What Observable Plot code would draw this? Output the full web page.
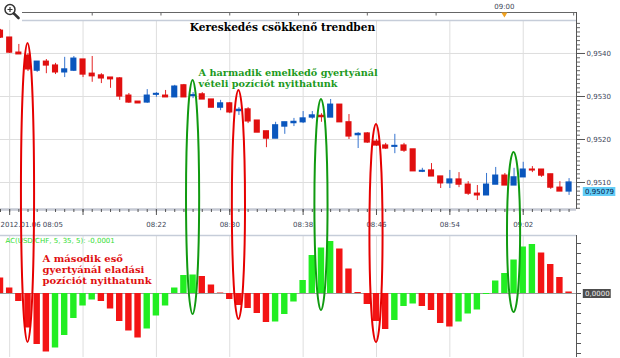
<!DOCTYPE html>
<html><head><meta charset="utf-8">
<script src="https://cdn.jsdelivr.net/npm/d3@7"></script>
<script src="https://cdn.jsdelivr.net/npm/@observablehq/plot@0.6"></script>
<style>
html,body{margin:0;padding:0;background:#fff;}
#wrap{position:relative;width:620px;height:358px;overflow:hidden;background:#fff;}
#wrap svg{position:absolute;left:0;}
</style></head><body><div id="wrap"></div>
<script>
// ---- data ----
const times = ["08:05","08:06","08:07","08:08","08:09","08:10","08:11","08:12","08:13","08:14","08:15","08:16","08:17","08:18","08:19","08:20","08:21","08:22","08:23","08:24","08:25","08:26","08:27","08:28","08:29","08:30","08:31","08:32","08:33","08:34","08:35","08:36","08:37","08:38","08:39","08:40","08:41","08:42","08:43","08:44","08:45","08:46","08:47","08:48","08:49","08:50","08:51","08:52","08:53","08:54","08:55","08:56","08:57","08:58","08:59","09:00","09:01","09:02","09:03","09:04","09:05","09:06","09:07"];
const open  = [0.95453,0.95437,0.95402,0.95395,0.95360,0.95381,0.95372,0.95356,0.95360,0.95386,0.95353,0.95349,0.95344,0.95342,0.95302,0.95288,0.95286,0.95304,0.95302,0.95298,0.95326,0.95301,0.95305,0.95293,0.95274,0.95284,0.95266,0.95270,0.95244,0.95219,0.95202,0.95230,0.95238,0.95240,0.95251,0.95255,0.95251,0.95281,0.95240,0.95210,0.95214,0.95195,0.95186,0.95183,0.95186,0.95177,0.95125,0.95128,0.95114,0.95098,0.95107,0.95095,0.95074,0.95070,0.95095,0.95116,0.95093,0.95112,0.95130,0.95130,0.95119,0.95088,0.95079];
const high  = [0.95456,0.95437,0.95421,0.95400,0.95381,0.95386,0.95377,0.95391,0.95393,0.95386,0.95393,0.95353,0.95344,0.95344,0.95307,0.95288,0.95316,0.95309,0.95314,0.95326,0.95328,0.95309,0.95309,0.95293,0.95291,0.95286,0.95274,0.95274,0.95244,0.95219,0.95240,0.95240,0.95249,0.95265,0.95265,0.95260,0.95293,0.95281,0.95258,0.95216,0.95216,0.95200,0.95191,0.95212,0.95191,0.95177,0.95133,0.95144,0.95114,0.95128,0.95123,0.95102,0.95093,0.95121,0.95135,0.95121,0.95133,0.95147,0.95137,0.95130,0.95119,0.95102,0.95109];
const low   = [0.95435,0.95400,0.95398,0.95358,0.95356,0.95353,0.95351,0.95344,0.95358,0.95344,0.95333,0.95330,0.95319,0.95291,0.95284,0.95284,0.95284,0.95298,0.95298,0.95298,0.95298,0.95295,0.95293,0.95274,0.95267,0.95260,0.95256,0.95237,0.95216,0.95181,0.95202,0.95212,0.95230,0.95237,0.95247,0.95240,0.95251,0.95240,0.95200,0.95179,0.95191,0.95184,0.95177,0.95167,0.95170,0.95126,0.95123,0.95114,0.95086,0.95086,0.95088,0.95070,0.95058,0.95070,0.95095,0.95093,0.95093,0.95112,0.95123,0.95112,0.95084,0.95079,0.95070];
const close = [0.95437,0.95402,0.95398,0.95363,0.95381,0.95372,0.95356,0.95363,0.95388,0.95351,0.95347,0.95342,0.95340,0.95300,0.95286,0.95284,0.95302,0.95306,0.95298,0.95323,0.95298,0.95303,0.95293,0.95274,0.95284,0.95263,0.95269,0.95242,0.95216,0.95202,0.95233,0.95240,0.95241,0.95249,0.95256,0.95252,0.95281,0.95240,0.95207,0.95213,0.95193,0.95186,0.95179,0.95185,0.95174,0.95126,0.95127,0.95114,0.95098,0.95107,0.95095,0.95074,0.95070,0.95095,0.95116,0.95093,0.95112,0.95130,0.95128,0.95116,0.95088,0.95079,0.95100];
const acValues = [0.000031,0.000011,-0.000016,-0.000069,-0.000102,-0.000117,-0.000109,-0.000084,-0.000050,-0.000025,-0.000013,-0.000016,-0.000031,-0.000056,-0.000075,-0.000089,-0.000071,-0.000045,-0.000025,0.000011,0.000036,0.000037,0.000034,0.000017,0.000001,-0.000012,-0.000024,-0.000030,-0.000040,-0.000058,-0.000057,-0.000042,-0.000017,0.000026,0.000076,0.000091,0.000104,0.000089,0.000049,0.000002,-0.000022,-0.000056,-0.000072,-0.000054,-0.000026,-0.000021,-0.000026,-0.000034,-0.000060,-0.000067,-0.000057,-0.000041,-0.000033,-0.000002,0.000025,0.000040,0.000067,0.000093,0.000098,0.000081,0.000058,0.000032,0.000003];
const priceTicks = [0.9510, 0.9520, 0.9530, 0.9540];
const gridTimes = ["08:06","08:14","08:22","08:30","08:38","08:46","08:54","09:02"];
const timeLabelTimes = ["08:05","08:22","08:30","08:38","08:46","08:54","09:02"];
const timeLabels = ["2012.01.06 08:05","08:22","08:30","08:38","08:46","08:54","09:02"];
const currentPrice = 0.95079;
const currentPriceLabel = "0,95079";
const acLabel = "AC(USD/CHF, 5, 35, 5): -0,0001";
const titleText = "Kereskedés csökkenő trendben";
const buyText = "A harmadik emelkedő gyertyánál\nvételi pozíciót nyithatunk";
const sellText = "A második eső\ngyertyánál eladási\npozíciót nyithatunk";
const ellipseTimes = ["08:08","08:26","08:31","08:40","08:46","09:01"];
const ellipseTopPrice = [0.95423,0.95337,0.95314,0.95293,0.95235,0.95170];
const ellipseBottomAC = [-0.000098,-0.000042,-0.000052,-0.000034,-0.000098,-0.000038];
const ellipseKind = ["sell","buy","sell","buy","sell","buy"];

// ---- helpers ----
const T = s => new Date(`2012-01-06T${s.length === 5 ? s + ":00" : s}Z`);
const off = (d, sec) => new Date(+d + sec * 1000);
const t0 = T("08:05");
const minute = m => off(t0, m * 60);
const xDomain = [t0, minute(62.81)];
const priceDomain = [0.950372, 0.954767];
const acDomain = [-0.000128, 0.000116];
const comma = d => d.toFixed(4).replace(".", ",");
const RED = "#e00f0f", BLUE = "#0a56bd";

const candles = times.map((t, i) => ({t: T(t), open: open[i], high: high[i], low: low[i], close: close[i]}));
const ac = times.map((t, i) => ({t: T(t), v: acValues[i], up: i > 0 && acValues[i] > acValues[i - 1]}));
const labels = timeLabelTimes.map((t, i) => ({t: T(t), label: timeLabels[i]}));
const minorPriceTicks = d3.range(9504, 9548).map(k => k / 10000);
const acTicks = d3.range(-12, 12, 2).map(k => k * 0.00001);

const baseStyle = {fontFamily: "DejaVu Sans", fontSize: "7px", background: "transparent", color: "#3d4658", overflow: "visible"};

const plotA = Plot.plot({
  width: 620, height: 234, marginTop: 20, marginBottom: 25, marginLeft: 0, marginRight: 44,
  style: baseStyle,
  x: {type: "utc", domain: xDomain},
  y: {domain: priceDomain},
  color: {type: "identity"},
  marks: [
    Plot.ruleY(priceTicks, {stroke: "#dedede"}),
    Plot.ruleX(gridTimes.map(T), {stroke: "#dedede"}),
    Plot.ruleY([priceDomain[0]], {stroke: "#c5c9d3", strokeWidth: 2.5}),
    Plot.ruleX(candles, {x: "t", y1: "low", y2: "high", stroke: d => d.close >= d.open ? "#3574cf" : "#e42424"}),
    Plot.rect(candles, {x1: d => off(d.t, -20), x2: d => off(d.t, 20), y1: "open", y2: "close",
      fill: d => d.close >= d.open ? BLUE : RED, insetTop: -0.6, insetBottom: -0.6}),
    Plot.ruleX([xDomain[1]], {stroke: "#555"}),
    Plot.axisY({anchor: "right", ticks: minorPriceTicks, tickSize: 3, tickFormat: () => "", stroke: "#666", label: null}),
    Plot.axisY({anchor: "right", ticks: priceTicks, tickSize: 8, tickPadding: 2, tickFormat: comma, stroke: "#555", label: null}),
    Plot.axisX({anchor: "bottom", ticks: times.map(T), tickSize: 3, tickFormat: () => "", stroke: "#555", label: null}),
    Plot.axisX({anchor: "bottom", ticks: gridTimes.map(T), tickSize: 6, tickFormat: () => "", stroke: "#555", label: null}),
    Plot.text(labels.slice(0, 1), {x: "t", text: "label", frameAnchor: "bottom", dy: 17, textAnchor: "start"}),
    Plot.text(labels.slice(1), {x: "t", text: "label", frameAnchor: "bottom", dy: 17}),
    Plot.ruleY([currentPrice], {x1: () => minute(63.55), x2: () => minute(67.1), stroke: "#63cdf7", strokeWidth: 9}),
    Plot.text([currentPrice], {x: () => minute(63.75), y: d => d, text: () => currentPriceLabel, textAnchor: "start", fill: "#06204a"}),
    Plot.text([titleText], {x: () => minute(30.75), y: () => 0.954605, text: d => d, fontFamily: "DejaVu Serif", fontWeight: "bold", fontSize: 10.6, fill: "#000"}),
    Plot.text([buyText], {x: () => minute(21.6), y: () => 0.953674, text: d => d, textAnchor: "start", lineAnchor: "top", lineHeight: 1.18,
      fontFamily: "DejaVu Serif", fontWeight: "bold", fontSize: 9.7, fill: "#1d9a1d"})
  ]
});

const plotB = Plot.plot({
  width: 620, height: 124, marginTop: 1, marginBottom: 1, marginLeft: 0, marginRight: 44,
  style: baseStyle,
  x: {type: "utc", domain: xDomain, axis: null},
  y: {domain: acDomain, axis: null},
  color: {type: "identity"},
  marks: [
    Plot.ruleX(gridTimes.map(T), {stroke: "#dedede"}),
    Plot.ruleY([acDomain[1]], {stroke: "#c6cdd9", strokeWidth: 1.5}),
    Plot.ruleY([0], {stroke: "#9c9c9c"}),
    Plot.rect(ac, {x1: d => off(d.t, -21), x2: d => off(d.t, 21), y1: 0, y2: "v", fill: d => d.up ? "#22ee22" : "#f31414"}),
    Plot.ruleX([xDomain[1]], {stroke: "#555"}),
    Plot.axisY({anchor: "right", ticks: acTicks, tickSize: 4, tickFormat: () => "", stroke: "#555", label: null}),
    Plot.ruleY([0], {x1: () => minute(63.55), x2: () => minute(66.6), stroke: "#4d4d4d", strokeWidth: 9}),
    Plot.text([0], {x: () => minute(63.75), y: d => d, text: d => comma(d), textAnchor: "start", fill: "#f0f0f0"}),
    Plot.text([acLabel], {frameAnchor: "top-left", dx: 5, dy: 3, lineAnchor: "top", text: d => d, fill: "#33dd33"}),
    Plot.text([sellText], {x: () => minute(4.58), y: () => 0.00008, text: d => d, textAnchor: "start", lineAnchor: "top", lineHeight: 1.13,
      fontFamily: "DejaVu Serif", fontWeight: "bold", fontSize: 10, fill: "#e01010"})
  ]
});

const wrap = document.getElementById("wrap");
plotA.style.top = "0px";
plotB.style.top = "234px";
wrap.appendChild(plotA);
wrap.appendChild(plotB);

// ---- overlay: chart chrome and the ellipses spanning both panels ----
const xs = plotA.scale("x"), ya = plotA.scale("y"), yb = plotB.scale("y");
const X = d => xs.apply(d);
const svg = d3.create("svg").attr("width", 620).attr("height", 358).style("top", "0px").style("pointer-events", "none");
svg.append("circle").attr("cx", 10).attr("cy", 9.5).attr("r", 5).attr("fill", "#fff").attr("stroke", "#333").attr("stroke-width", 1.5);
svg.append("path").attr("d", "M7.5,9.5H12.5M10,7V12").attr("stroke", "#333").attr("stroke-width", 1.2);
svg.append("path").attr("d", "M13.8,13.3L18.5,18").attr("stroke", "#333").attr("stroke-width", 2.6).attr("stroke-linecap", "round");
const xr = X(xDomain[1]);
svg.append("line").attr("x1", 22).attr("x2", xr).attr("y1", 12.5).attr("y2", 12.5).attr("stroke", "#666");
svg.append("line").attr("x1", 22).attr("x2", xr).attr("y1", 20.5).attr("y2", 20.5).attr("stroke", "#c6cdd9").attr("stroke-width", 1.5);
svg.append("line").attr("x1", xr + 0.5).attr("x2", xr + 0.5).attr("y1", 12).attr("y2", 21).attr("stroke", "#555");
const rulerTicks = d3.range(10, 63, 7.5).map(minute);
svg.selectAll("line.rt").data(rulerTicks).join("line").attr("class", "rt")
  .attr("x1", d => X(d) + 0.5).attr("x2", d => X(d) + 0.5).attr("y1", 12.5).attr("y2", 15.5).attr("stroke", "#666");
const nine = T("09:00");
svg.append("text").attr("x", X(nine)).attr("y", 8.5).attr("text-anchor", "middle")
  .attr("font-family", "DejaVu Sans").attr("font-size", 7).attr("fill", "#3d4658").text("09:00");
svg.append("path").attr("d", `M${X(nine) - 3},12.5H${X(nine) + 3}L${X(nine)},17.5Z`).attr("fill", "#f2a21e");
ellipseTimes.forEach((t, i) => {
  const tt = T(t);
  const cx = X(tt);
  const rx = X(off(tt, 43)) - cx;
  const top = ya.apply(ellipseTopPrice[i]);
  const bottom = 234 + yb.apply(ellipseBottomAC[i]);
  svg.append("ellipse").attr("cx", cx).attr("cy", (top + bottom) / 2).attr("rx", rx).attr("ry", (bottom - top) / 2)
    .attr("fill", "none").attr("stroke", ellipseKind[i] === "sell" ? "#e60000" : "#109a10").attr("stroke-width", 2);
});
wrap.appendChild(svg.node());
</script></body></html>
